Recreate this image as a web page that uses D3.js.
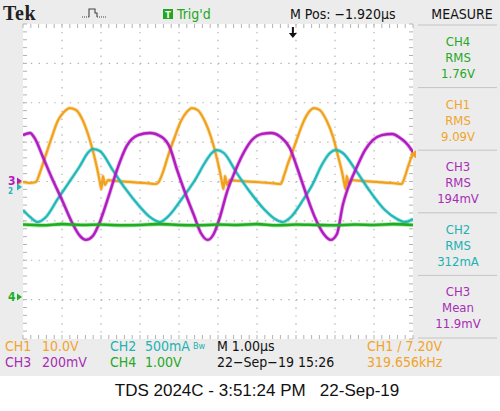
<!DOCTYPE html>
<html><head><meta charset="utf-8">
<script src="https://cdn.jsdelivr.net/npm/d3@7"></script>
<style>
html,body{margin:0;padding:0;background:#fff;}
svg{display:block;}
text{font-family:"Liberation Sans Narrow","DejaVu Sans Condensed","Liberation Sans",Arial,sans-serif;}
</style></head><body>
<svg id="c" width="500" height="411"></svg>
<script>
// ---------------- DATA (time in µs relative to trigger) ----------------
const ch1Time = [-6.92,-6.74,-6.59,-6.49,-6.36,-6.18,-6.03,-5.87,-5.72,-5.56,-5.38,-5.23,-5.10,-5.00,-4.95,-4.91,-4.87,-4.82,-4.74,-4.56,-4.18,-3.79,-3.51,-3.44,-3.33,-3.21,-3.03,-2.87,-2.72,-2.59,-2.44,-2.26,-2.10,-1.97,-1.87,-1.82,-1.78,-1.74,-1.69,-1.62,-1.36,-0.97,-0.59,-0.31,-0.23,-0.13,0.00,0.13,0.28,0.41,0.54,0.69,0.87,1.03,1.15,1.26,1.31,1.35,1.38,1.44,1.51,1.77,2.15,2.54,2.79,2.87,2.95,3.03,3.08];
const ch1Volts = [0.13,-0.13,0.13,2.41,6.22,11.55,15.61,17.89,18.91,18.40,15.61,11.55,6.98,2.66,0.13,-1.65,1.65,-0.63,0.63,0.38,0.13,-0.13,-0.38,0.13,2.66,6.47,11.55,15.61,17.89,18.91,18.40,15.61,11.55,6.98,2.66,0.13,-1.65,1.65,-0.63,0.63,0.38,0.13,-0.13,-0.38,1.65,4.70,8.12,11.80,15.61,17.89,18.91,18.40,15.61,11.55,6.98,2.66,0.13,-1.65,1.65,-0.63,0.63,0.38,0.13,-0.13,-0.38,1.40,3.93,6.22,7.74];

const ch2Time = [-6.92,-6.74,-6.54,-6.33,-6.03,-5.77,-5.46,-5.26,-5.13,-4.95,-4.62,-4.31,-3.92,-3.67,-3.41,-3.21,-2.85,-2.51,-2.26,-2.08,-1.95,-1.77,-1.44,-1.10,-0.72,-0.46,-0.26,-0.05,0.26,0.51,0.74,0.95,1.10,1.28,1.64,1.97,2.36,2.67,2.87,3.08];
const ch2mA = [-305,-393,-457,-393,-165,25,254,419,470,444,203,-25,-266,-393,-457,-393,-165,76,292,419,457,419,165,-76,-305,-419,-457,-393,-178,25,266,419,457,419,178,-63,-305,-419,-457,-419];

const ch3Time = [-6.92,-6.74,-6.62,-6.41,-6.18,-5.92,-5.67,-5.46,-5.31,-5.13,-4.95,-4.69,-4.51,-4.26,-3.97,-3.67,-3.36,-3.15,-2.97,-2.77,-2.54,-2.36,-2.18,-2.03,-1.87,-1.69,-1.49,-1.28,-1.05,-0.79,-0.56,-0.31,-0.08,0.13,0.33,0.56,0.79,0.97,1.13,1.28,1.46,1.64,1.85,2.05,2.28,2.54,2.79,2.95,3.08];
const ch3mV = [233,244,218,122,15,-96,-208,-279,-299,-279,-208,-56,56,178,233,244,223,168,56,-56,-173,-264,-299,-269,-183,-56,46,137,208,239,244,223,168,56,-61,-183,-269,-299,-269,-122,-10,71,157,208,233,239,213,183,147];

const ch4Time = [-6.92,-6.42,-5.92,-5.42,-4.92,-4.42,-3.92,-3.42,-2.92,-2.42,-1.92,-1.42,-0.92,-0.42,0.08,0.58,1.08,1.58,2.08,2.58,3.08];
const ch4Volts = [1.84,1.82,1.85,1.83,1.84,1.82,1.83,1.85,1.83,1.82,1.84,1.83,1.85,1.82,1.84,1.83,1.82,1.84,1.83,1.85,1.83];

const measureCh   = ["CH4","CH1","CH3","CH2","CH3"];
const measureType = ["RMS","RMS","RMS","RMS","Mean"];
const measureVal  = ["1.76V","9.09V","194mV","312mA","11.9mV"];
const measureKey  = ["ch4","ch1","ch3","ch2","ch3"];

// ---------------- STYLE ----------------
const col = {ch1:"#f0a21e", ch2:"#22b8b8", ch3:"#b01cc0", ch4:"#1fae1f"};
const txt = {ch1:"#f2a42a", ch2:"#22b2b2", ch3:"#a82cb4", ch4:"#26a826"};
const G = {l:23, r:413, t:24, b:339};

const svg = d3.select("#c");
svg.append("rect").attr("x",0).attr("y",0).attr("width",500).attr("height",376).attr("fill","#ececec");
svg.append("rect").attr("x",G.l).attr("y",G.t).attr("width",G.r-G.l).attr("height",G.b-G.t).attr("fill","#ffffff");

const xd = d3.scaleLinear().domain([0,10]).range([G.l,G.r]);
const yd = d3.scaleLinear().domain([-4,4]).range([G.b,G.t]);
const x = d3.scaleLinear().domain([-6.92,3.08]).range([G.l,G.r]);
function chScale(perDiv, groundDiv){
  return d3.scaleLinear().domain([(-4-groundDiv)*perDiv,(4-groundDiv)*perDiv]).range([G.b,G.t]);
}
const y1 = chScale(10, -0.025);
const y2 = chScale(500, -0.114);
const y3 = chScale(200, 0.0127);
const y4 = chScale(1, -2.933);

// grid
const grid = svg.append("g");
const gc = "#b3b3b3";
for(let i=1;i<10;i++){
  grid.append("line").attr("x1",xd(i)).attr("x2",xd(i)).attr("y1",G.t).attr("y2",G.b)
    .attr("stroke",gc).attr("stroke-width",1.2).attr("stroke-dasharray","1.4,"+((G.b-G.t)/40-1.4));
}
for(let j=-3;j<=3;j++){
  grid.append("line").attr("x1",G.l).attr("x2",G.r).attr("y1",yd(j)).attr("y2",yd(j))
    .attr("stroke",gc).attr("stroke-width",1.2).attr("stroke-dasharray","1.4,"+((G.r-G.l)/50-1.4));
}
const minorX = d3.range(0,50.01,1).map(k=>k/5);
const minorY = d3.range(-20,20.01,1).map(k=>k/5);
minorX.forEach(v=>{
  grid.append("line").attr("x1",xd(v)).attr("x2",xd(v)).attr("y1",G.t).attr("y2",G.t+4).attr("stroke",gc);
  grid.append("line").attr("x1",xd(v)).attr("x2",xd(v)).attr("y1",G.b-4).attr("y2",G.b).attr("stroke",gc);
});
minorY.forEach(v=>{
  grid.append("line").attr("x1",G.l).attr("x2",G.l+4).attr("y1",yd(v)).attr("y2",yd(v)).attr("stroke",gc);
  grid.append("line").attr("x1",G.r-4).attr("x2",G.r).attr("y1",yd(v)).attr("y2",yd(v)).attr("stroke",gc);
});

// traces
svg.append("clipPath").attr("id","clip").append("rect").attr("x",G.l).attr("y",G.t).attr("width",G.r-G.l).attr("height",G.b-G.t);
const tr = svg.append("g").attr("clip-path","url(#clip)");
function trace(ts, vs, ys, c, w){
  const data = ts.map((t,i)=>[t,vs[i]]);
  const ln = d3.line().x(d=>x(d[0])).y(d=>ys(d[1])).curve(d3.curveMonotoneX);
  tr.append("path").attr("d",ln(data)).attr("fill","none").attr("stroke",c).attr("stroke-width",w+1.6).attr("stroke-opacity",0.35).attr("stroke-linejoin","round");
  tr.append("path").attr("d",ln(data)).attr("fill","none").attr("stroke",c).attr("stroke-width",w).attr("stroke-linejoin","round");
}
trace(ch1Time, ch1Volts, y1, col.ch1, 2.2);
trace(ch2Time, ch2mA, y2, col.ch2, 2.2);
trace(ch3Time, ch3mV, y3, col.ch3, 2.4);
trace(ch4Time, ch4Volts, y4, col.ch4, 2.6);

// ground markers (left)
function arrow(yy, c){ svg.append("path").attr("d",`M17,${yy-3.5}L22,${yy}L17,${yy+3.5}Z`).attr("fill",c); }
function label(s, yy, c, fs){ svg.append("text").attr("x",8).attr("y",yy).attr("fill",c).attr("font-size",fs).attr("font-weight","bold").text(s); }
arrow(y1(0), col.ch1);
arrow(y3(0), col.ch3);
label("3", y3(0)+4, col.ch3, 12);
arrow(y2(0)+1, col.ch2);
label("2", y2(0)+8, col.ch2, 8);
arrow(y4(0), col.ch4);
label("4", y4(0)+4.5, col.ch4, 12);

// trigger level marker (right) and trigger position arrow (top)
const trigY = y1(7.2);
svg.append("path").attr("d",`M${G.r+3},${trigY-4}L${G.r-3},${trigY}L${G.r+3},${trigY+4}Z`).attr("fill",col.ch1);
const ax = x(0);
svg.append("path").attr("d",`M${ax-1},${G.t+3}L${ax+1},${G.t+3}L${ax+1},${G.t+9}L${ax+4},${G.t+9}L${ax},${G.t+14}L${ax-4},${G.t+9}L${ax-1},${G.t+9}Z`).attr("fill","#111");

// top bar
svg.append("text").attr("x",3).attr("y",20).style("font-family","'Liberation Serif','DejaVu Serif',serif").attr("font-weight","bold").attr("font-size",20).attr("letter-spacing",0.5).attr("fill","#222").text("Tek");
svg.append("path").attr("d","M82,17L89,17").attr("stroke","#444").attr("stroke-dasharray","1,1").attr("fill","none");
svg.append("path").attr("d","M89,17L89,9L95,9L95,13L97,13L97,17").attr("stroke","#444").attr("stroke-width",1.1).attr("fill","none");
svg.append("path").attr("d","M97,17L106,17").attr("stroke","#444").attr("stroke-dasharray","1,1").attr("fill","none");
svg.append("rect").attr("x",163).attr("y",9).attr("width",10).attr("height",10).attr("fill","#21a821");
svg.append("text").attr("x",168).attr("y",17.5).attr("text-anchor","middle").attr("font-size",9).attr("font-weight","bold").attr("fill","#fff").text("T");
svg.append("text").attr("x",177).attr("y",19).attr("font-size",14).attr("fill","#21a821").text("Trig'd");
svg.append("text").attr("x",290).attr("y",19).attr("font-size",14).attr("fill","#111").text("M Pos: \u22121.920\u00b5s");
svg.append("text").attr("x",462).attr("y",19).attr("text-anchor","middle").attr("font-size",14).attr("fill","#111").text("MEASURE");

// measure panel
const panelTop = 25, panelH = 62.6;
svg.append("line").attr("x1",418).attr("x2",497).attr("y1",panelTop).attr("y2",panelTop).attr("stroke","#c4c4c4");
measureCh.forEach((c,i)=>{
  const t0 = panelTop + i*panelH;
  const cc = txt[measureKey[i]];
  [c, measureType[i], measureVal[i]].forEach((s,k)=>{
    svg.append("text").attr("x",458).attr("y",t0+21+k*16).attr("text-anchor","middle").attr("font-size",13).attr("fill",cc).text(s);
  });
  svg.append("line").attr("x1",418).attr("x2",497).attr("y1",t0+panelH).attr("y2",t0+panelH).attr("stroke","#c4c4c4");
});

// bottom info
function bt(s, xx, yy, c){ svg.append("text").attr("x",xx).attr("y",yy).attr("font-size",14).attr("fill",c).text(s); }
bt("CH1", 5, 351, txt.ch1); bt("10.0V", 42, 351, txt.ch1);
bt("CH2", 110, 351, txt.ch2); bt("500mA", 145, 351, txt.ch2);
svg.append("text").attr("x",193).attr("y",349).attr("font-size",9).attr("fill",txt.ch2).text("Bw");
bt("M 1.00\u00b5s", 217, 351, "#111");
bt("CH1  /  7.20V", 367, 351, txt.ch1);
bt("CH3", 5, 367, txt.ch3); bt("200mV", 42, 367, txt.ch3);
bt("CH4", 110, 367, txt.ch4); bt("1.00V", 145, 367, txt.ch4);
bt("22\u2212Sep\u221219 15:26", 217, 367, "#111");
bt("319.656kHz", 367, 367, txt.ch1);

// caption
svg.append("text").attr("x",257).attr("y",396).attr("text-anchor","middle").style("font-family","'Liberation Sans',Arial,sans-serif").attr("font-size",17).attr("fill","#111").style("white-space","pre").text("TDS 2024C - 3:51:24 PM   22-Sep-19");
</script>
</body></html>
